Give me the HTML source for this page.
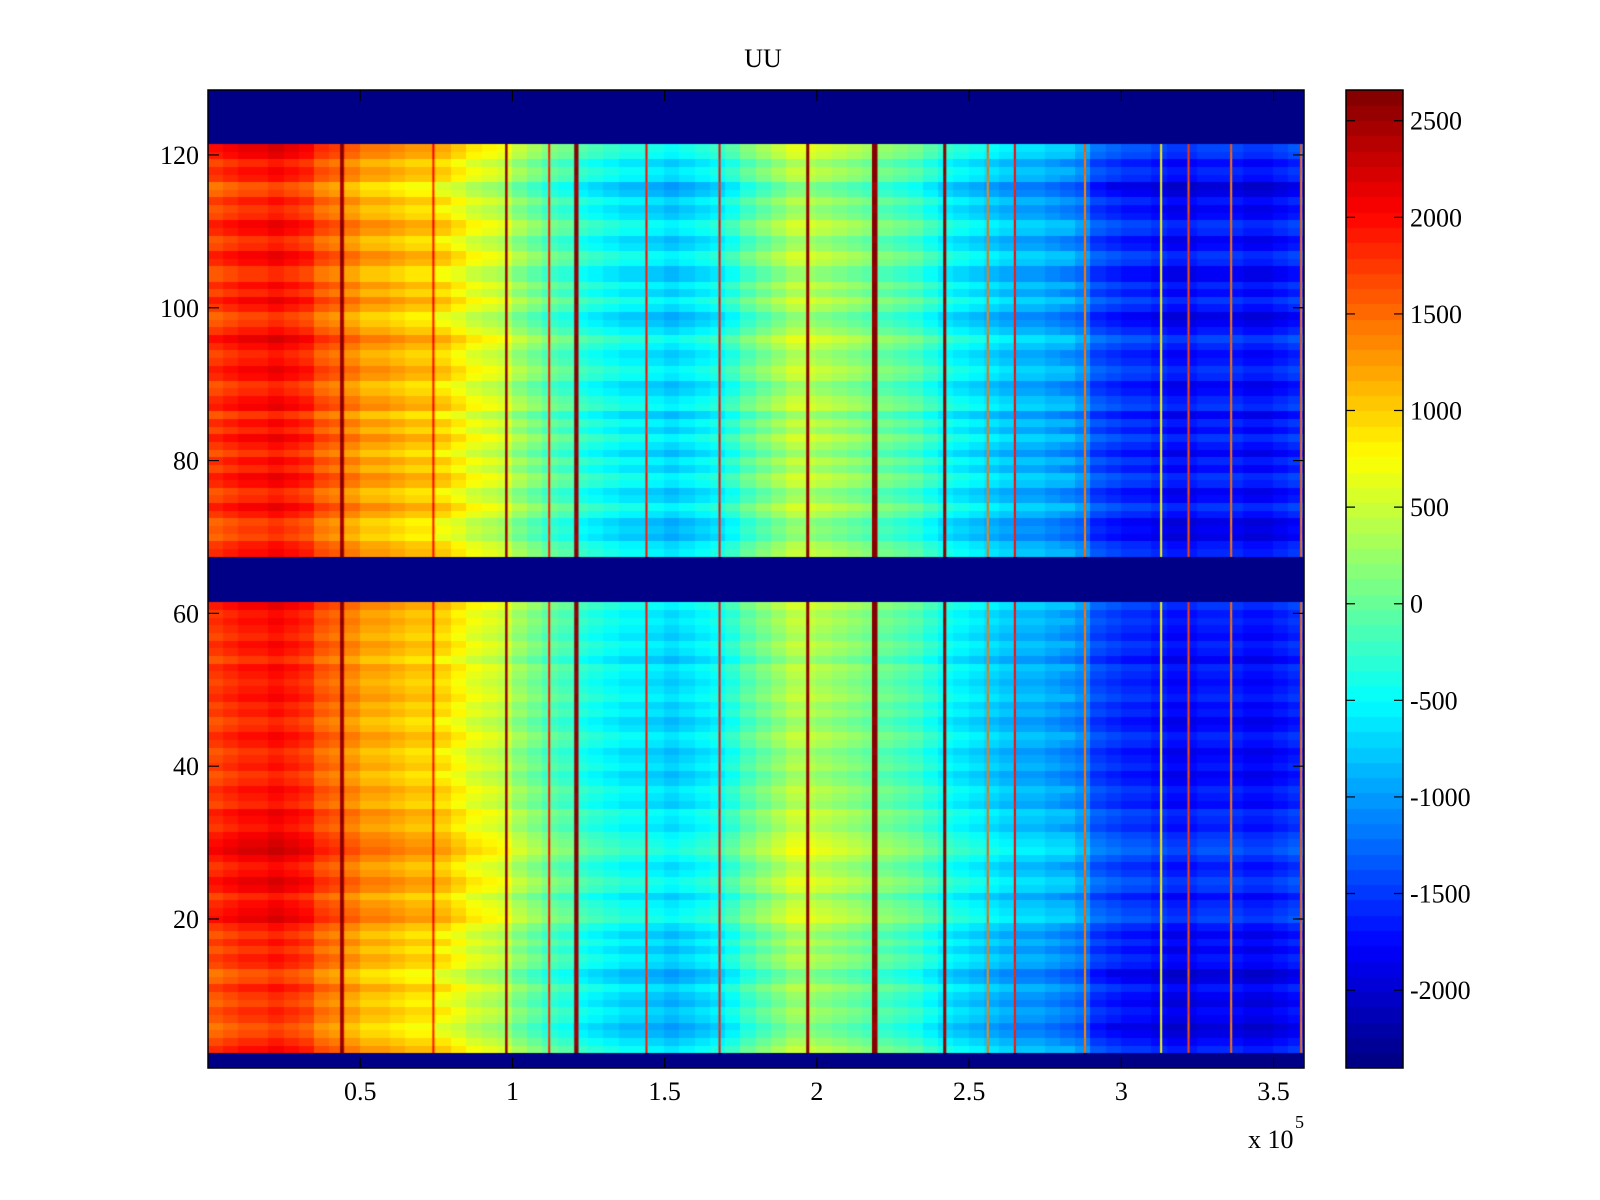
<!DOCTYPE html>
<html><head><meta charset="utf-8"><style>
html,body{margin:0;padding:0;background:#fff;}
#wrap{position:relative;width:1600px;height:1200px;overflow:hidden;font-family:"Liberation Serif",serif;color:#000;}
canvas{position:absolute;left:0;top:0;}
svg{position:absolute;left:0;top:0;}
</style></head><body>
<div id="wrap">
<canvas id="cv" width="1600" height="1200"></canvas>
<svg id="ov" width="1600" height="1200"></svg>
</div>
<script>
// ---- data ----
const colStarts = [0,0.05,0.1,0.15,0.2,0.25,0.3,0.35,0.4,0.45,0.5,0.55,0.6,0.65,0.7,0.75,0.8,0.85,0.9,0.95,1.0,1.05,1.1,1.15,1.2,1.25,1.3,1.35,1.4,1.45,1.5,1.55,1.6,1.65,1.7,1.75,1.8,1.85,1.9,1.95,2.0,2.05,2.1,2.15,2.2,2.25,2.3,2.35,2.4,2.45,2.5,2.55,2.6,2.65,2.7,2.75,2.8,2.85,2.9,2.95,3.0,3.05,3.1,3.15,3.2,3.25,3.3,3.35,3.4,3.45,3.5,3.55];
const colValues = [1800,1900,2000,2000,2100,2000,1900,1700,1600,1400,1300,1250,1200,1150,1100,1000,850,750,650,550,300,150,0,-100,-200,-300,-400,-450,-500,-550,-600,-550,-500,-400,-250,0,200,350,450,450,400,350,250,150,100,0,-100,-250,-400,-500,-550,-650,-700,-750,-800,-850,-900,-1000,-1350,-1450,-1500,-1500,-1600,-1650,-1650,-1600,-1600,-1600,-1650,-1650,-1600,-1500];
const rowOffsets = [].concat(
 [null,null,0],
 [-200,-400,-500,-300,-200,-400,-300],
 [-100,-400,-500,-200,-100,-300,-100,-300,-100,200],
 [100,0,-200,100,200,0,-100,100,300,200],
 [100,-100,0,100,-200,-100,0,-200,-300,-100],
 [-200,-300,-100,0,-200,-300,-100,-200,0,-100],
 [-200,-100,0,-300,-100,0,-200,-100,0,-100,100],
 [null,null,null,null,null,null],
 [0,-100,-400,-300,-400,-100,100,-200,-300,0],
 [100,-200,0,-300,-100,100,-200,0,-300,100],
 [0,-200,-300,0,100,-100,-200,0,200,-100],
 [-300,-400,-100,100,-200,0,-300,-300,0,100],
 [-200,-300,0,100,-200,-300,-100,-400,-500,-100,0,-200,100,200],
 [null,null,null,null,null,null,null]
);
const lineX = [0.44,0.74,0.98,1.12,1.21,1.44,1.68,1.97,2.19,2.42,2.56,2.65,2.88,3.13,3.22,3.36,3.59];
const lineValues = [2600,2000,2600,1900,2600,2000,2000,2600,2650,2600,1500,2000,1500,800,1700,1500,1500];
const lineWidths = [0.012,0.006,0.008,0.005,0.014,0.006,0.006,0.01,0.018,0.01,0.004,0.006,0.005,0.005,0.005,0.005,0.005];
const xTicks = [0.5,1,1.5,2,2.5,3,3.5];
const xTickLabels = ["0.5","1","1.5","2","2.5","3","3.5"];
const yTicks = [20,40,60,80,100,120];
const cTicks = [2500,2000,1500,1000,500,0,-500,-1000,-1500,-2000];

// ---- geometry ----
const AX = {l:208,t:90,r:1304,b:1068};
const CB = {l:1346,t:90,r:1403,b:1068};
const xMin=0, xMax=3.6, yMin=0.5, yMax=128.5, cMin=-2403, cMax=2659;
const xs = v => AX.l + (v-xMin)/(xMax-xMin)*(AX.r-AX.l);
const ys = v => AX.t + (yMax-v)/(yMax-yMin)*(AX.b-AX.t);
const cs = v => CB.b - (v-cMin)/(cMax-cMin)*(CB.b-CB.t);
function jet(v){
  let t=(v-cMin)/(cMax-cMin); t=Math.max(0,Math.min(1,t));
  let k=Math.min(63,Math.floor(t*64)); t=(k+0.5)/64;
  const c=x=>Math.round(255*Math.max(0,Math.min(1,x)));
  return `rgb(${c(1.5-Math.abs(4*t-3))},${c(1.5-Math.abs(4*t-2))},${c(1.5-Math.abs(4*t-1))})`;
}
const cv=document.getElementById('cv'), ctx=cv.getContext('2d');
for(let r=0;r<128;r++){
  const row=r+1, off=rowOffsets[r];
  const y0=Math.floor(ys(row+0.5)), y1=Math.ceil(ys(row-0.5));
  for(let c=0;c<colStarts.length;c++){
    const x0=Math.floor(xs(colStarts[c])), x1=Math.ceil(xs(c+1<colStarts.length?colStarts[c+1]:xMax));
    ctx.fillStyle = off===null ? jet(cMin) : jet(colValues[c]+off*0.8);
    ctx.fillRect(x0,y0,x1-x0,y1-y0);
  }
  if(off!==null){
    for(let i=0;i<lineX.length;i++){
      const xa=xs(lineX[i]-lineWidths[i]/2), xb=xs(lineX[i]+lineWidths[i]/2);
      ctx.fillStyle=jet(lineValues[i]+off*0.3);
      ctx.fillRect(xa,y0,Math.max(2,xb-xa),y1-y0);
    }
  }
}
for(let k=0;k<64;k++){
  const va=cMin+k*(cMax-cMin)/64, vb=cMin+(k+1)*(cMax-cMin)/64;
  ctx.fillStyle=jet((va+vb)/2);
  const ya=cs(vb), yb=cs(va);
  ctx.fillRect(CB.l,Math.floor(ya),CB.r-CB.l,Math.ceil(yb)-Math.floor(ya));
}
// ---- overlay ----
const NS='http://www.w3.org/2000/svg', ov=document.getElementById('ov');
function mk(tag,attrs,text){const e=document.createElementNS(NS,tag);for(const k in attrs)e.setAttribute(k,attrs[k]);if(text!==undefined)e.textContent=text;ov.appendChild(e);return e;}
let e;
e=mk('rect',{x:AX.l,y:AX.t,width:AX.r-AX.l,height:AX.b-AX.t,fill:'none',stroke:'#000','stroke-width':1.5});


e=mk('rect',{x:CB.l,y:CB.t,width:CB.r-CB.l,height:CB.b-CB.t,fill:'none',stroke:'#000','stroke-width':1.5});


xTicks.forEach((v,i)=>{
  const x=xs(v);
  e=mk('path',{d:`M${x},${AX.b}V${AX.b-11}M${x},${AX.t}V${AX.t+11}`,stroke:'#000','stroke-width':1.2});
  
  
  e=mk('text',{x:x,y:1100,'text-anchor':'middle','font-size':26,'font-family':'Liberation Serif, serif'},xTickLabels[i]);
  
  
});
yTicks.forEach(v=>{
  const y=ys(v);
  e=mk('path',{d:`M${AX.l},${y}H${AX.l+11}M${AX.r},${y}H${AX.r-11}`,stroke:'#000','stroke-width':1.2});
  
  
  e=mk('text',{x:199,y:y+9,'text-anchor':'end','font-size':26,'font-family':'Liberation Serif, serif'},String(v));
  
  
});
cTicks.forEach(v=>{
  const y=cs(v);
  e=mk('path',{d:`M${CB.l},${y}H${CB.l+9}M${CB.r},${y}H${CB.r-9}`,stroke:'#000','stroke-width':1.2});
  
  
  e=mk('text',{x:1410,y:y+9,'text-anchor':'start','font-size':26,'font-family':'Liberation Serif, serif'},String(v));
  
  
});
e=mk('text',{x:763,y:67,'text-anchor':'middle','font-size':26,'font-family':'Liberation Serif, serif'},'UU');


e=mk('text',{x:1248,y:1148,'font-size':26,'font-family':'Liberation Serif, serif'},'x 10');


e=mk('text',{x:1295,y:1128,'font-size':18,'font-family':'Liberation Serif, serif'},'5');


</script>
</body></html>
